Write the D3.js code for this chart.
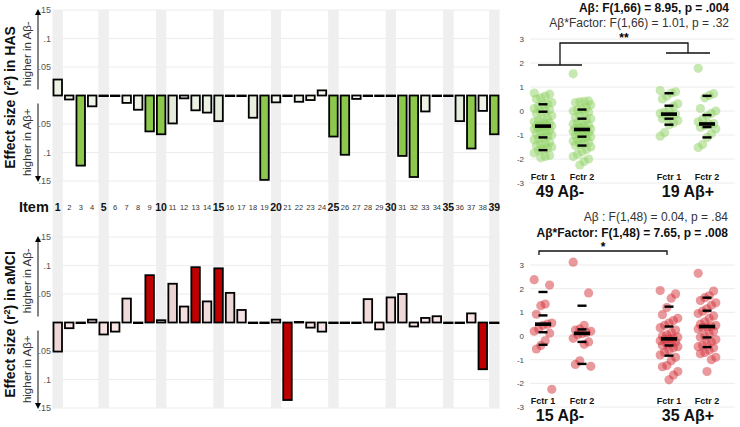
<!DOCTYPE html>
<html><head><meta charset="utf-8">
<script src="https://cdn.jsdelivr.net/npm/d3@7"></script>
<style>body{margin:0;background:#fff;font-family:Arial,"Liberation Sans",sans-serif;}</style>
</head><body><svg id="c" width="740" height="427"></svg>
<script>
// ---------- DATA ----------
const items = d3.range(1, 40);
const boldItems = [1,5,10,15,20,25,30,35,39];
const hasValues = [0.028,-0.007,-0.123,-0.019,-0.001,0,-0.013,-0.025,-0.063,-0.068,-0.049,-0.005,-0.026,-0.030,-0.045,0,0,-0.039,-0.148,-0.012,0,-0.011,-0.008,0.009,-0.072,-0.104,-0.006,0,0,0,-0.106,-0.143,-0.028,0,0,-0.045,-0.093,-0.027,-0.068];
const hasSig = [3,9,10,19,25,26,31,32,37,39];
const mciValues = [-0.051,-0.010,0,0.005,-0.021,-0.016,0.042,0,0.083,0.004,0.068,0.028,0.097,0.037,0.095,0.052,0.022,0,0,0.005,-0.136,0.001,-0.009,-0.016,0,0,0,0.041,-0.012,0.044,0.050,-0.007,0.008,0.011,0,0,0.016,-0.082,0];
const mciSig = [9,13,15,21,38];
const effectTicks = [0.05,0.1,0.15];
const effectTickLabels = [".05",".1",".15"];
const scoreTicks = [3,2,1,0,-1,-2,-3];

// HAS scatter (factor scores)
const hasNegF1 = [0.75,0.7,0.62,0.55,0.5,0.35,0.3,0.28,0.2,0.1,0.05,0.0,-0.03,-0.1,-0.2,-0.3,-0.35,-0.4,-0.45,-0.5,-0.55,-0.6,-0.62,-0.63,-0.65,-0.68,-0.7,-0.75,-0.8,-0.85,-0.9,-0.95,-1.0,-1.05,-1.1,-1.15,-1.2,-1.3,-1.35,-1.4,-1.45,-1.5,-1.55,-1.6,-1.65,-1.75,-1.85,-1.9,-1.95];
const hasNegF2 = [1.55,0.42,0.4,0.38,0.35,0.25,0.15,0.08,0.05,0.0,-0.05,-0.1,-0.2,-0.28,-0.32,-0.38,-0.45,-0.5,-0.55,-0.6,-0.65,-0.7,-0.72,-0.75,-0.77,-0.8,-0.82,-0.85,-0.9,-0.95,-1.0,-1.03,-1.07,-1.1,-1.15,-1.2,-1.25,-1.3,-1.35,-1.4,-1.44,-1.5,-1.6,-1.7,-1.8,-1.9,-2.0,-2.1,-2.25];
const hasPosF1 = [0.85,0.8,0.75,0.62,0.5,0.3,0.2,0.05,-0.05,-0.1,-0.13,-0.18,-0.25,-0.32,-0.4,-0.5,-0.57,-0.9,-1.05];
const hasPosF2 = [1.78,0.72,0.65,0.55,0.1,0.0,-0.1,-0.2,-0.35,-0.45,-0.52,-0.55,-0.6,-0.68,-0.75,-0.95,-1.1,-1.4,-1.52];
// percentile markers [90,75,50,25,10]
const hasNegF1Q = [0.28,-0.03,-0.63,-1.10,-1.63];
const hasNegF2Q = [0.06,-0.32,-0.77,-1.07,-1.44];
const hasPosF1Q = [0.74,0.22,-0.13,-0.32,-0.57];
const hasPosF2Q = [0.63,-0.17,-0.54,-0.67,-1.10];

// aMCI scatter
const mciNegF1 = [2.38,2.15,1.35,1.28,0.92,0.55,0.5,0.45,0.3,0.2,0.12,-0.2,-0.4,-0.55,-2.25];
const mciNegF2 = [3.12,1.82,0.45,0.3,0.25,0.2,0.15,0.1,0.05,-0.1,-0.25,-0.35,-1.05,-1.2,-1.28];
const mciPosF1 = [1.92,1.78,1.6,1.2,0.9,0.75,0.65,0.55,0.45,0.35,0.25,0.15,0.05,0.0,-0.05,-0.1,-0.12,-0.15,-0.2,-0.25,-0.3,-0.35,-0.4,-0.45,-0.5,-0.6,-0.7,-0.8,-0.9,-1.05,-1.25,-1.3,-1.5,-1.65,-1.85];
const mciPosF2 = [2.65,1.9,1.7,1.62,1.5,1.4,1.3,1.15,1.05,0.95,0.85,0.75,0.6,0.5,0.45,0.4,0.38,0.35,0.3,0.2,0.1,0.0,-0.05,-0.15,-0.25,-0.3,-0.4,-0.45,-0.5,-0.6,-0.7,-0.75,-0.9,-1.0,-1.5];
const mciNegF1Q = [1.86,0.87,0.50,0.16,-0.37];
const mciNegF2Q = [1.28,0.28,0.11,-0.25,-1.18];
const mciPosF1Q = [1.24,0.40,-0.12,-0.40,-0.83];
const mciPosF2Q = [1.62,1.07,0.40,-0.06,-0.47];

const groupLabels = ["Fctr 1","Fctr 2","Fctr 1","Fctr 2"];
const hasGroupTitles = ["49 Aβ-","19 Aβ+"];
const mciGroupTitles = ["15 Aβ-","35 Aβ+"];

// ---------- DRAW ----------
const svg = d3.select("#c");
const x = d3.scaleBand().domain(items).range([52, 500]).paddingInner(0.12).paddingOuter(0.06);

svg.append("g").selectAll("rect").data(boldItems).join("rect")
  .attr("x", d => x(d)).attr("width", x.bandwidth())
  .attr("y", 10).attr("height", 398).attr("fill", "#efefef");

function barChart(values, sig, y0, y1, color, lightA, lightB, title) {
  const y = d3.scaleLinear().domain([-0.15, 0.15]).range([y1, y0]);
  const g = svg.append("g");
  const gl = [];
  effectTicks.forEach(t => { gl.push(t); gl.push(-t); });
  g.selectAll("line.grid").data(gl).join("line")
    .attr("x1", 52).attr("x2", 500).attr("y1", d => y(d)).attr("y2", d => y(d))
    .attr("stroke", "#ececec").attr("stroke-width", 1);
  g.selectAll("rect.sh").data(boldItems).join("rect")
    .attr("x", d => x(d)).attr("width", x.bandwidth())
    .attr("y", y0).attr("height", y1 - y0).attr("fill", "#efefef");
  effectTicks.forEach((t, i) => {
    [t, -t].forEach(v => {
      g.append("text").attr("x", 51).attr("y", y(v) + 3).attr("text-anchor", "end")
        .attr("font-size", 9).attr("fill", "#555").text(effectTickLabels[i]);
    });
  });
  const ax = 38, z = y(0);
  g.append("line").attr("x1", ax).attr("x2", ax).attr("y1", y0 + 3).attr("y2", z - 6).attr("stroke", "#333").attr("stroke-width", 1.2);
  g.append("line").attr("x1", ax).attr("x2", ax).attr("y1", z + 8).attr("y2", y1 - 3).attr("stroke", "#333").attr("stroke-width", 1.2);
  g.append("path").attr("d", `M${ax-3},${y0+5}L${ax},${y0-1}L${ax+3},${y0+5}Z`).attr("fill", "#000");
  g.append("path").attr("d", `M${ax-3},${y1-5}L${ax},${y1+1}L${ax+3},${y1-5}Z`).attr("fill", "#000");
  g.append("text").attr("transform", `translate(31,${(y0 + z) / 2 + 1}) rotate(-90)`).attr("text-anchor", "middle")
    .attr("font-size", 11.5).attr("fill", "#333").text("higher in Aβ-");
  g.append("text").attr("transform", `translate(31,${(z + y1) / 2 + 4}) rotate(-90)`).attr("text-anchor", "middle")
    .attr("font-size", 11.5).attr("fill", "#333").text("higher in Aβ+");
  const tt = g.append("text").attr("transform", `translate(15,${z + 2}) rotate(-90)`).attr("text-anchor", "middle")
    .attr("font-size", 14).attr("font-weight", "bold").attr("fill", "#111");
  tt.append("tspan").text("Effect size (r");
  tt.append("tspan").attr("font-size", 9).attr("dy", -5).text("2");
  tt.append("tspan").attr("dy", 5).text(") in " + title);
  const data = items.map((it, i) => ({it, v: values[i]}));
  const shade = d3.scaleLinear().domain([0, 0.06]).range([lightA, lightB]).clamp(true);
  g.selectAll("rect.bar").data(data).join("rect")
    .attr("x", d => x(d.it) + 0.8).attr("width", x.bandwidth() - 1.6)
    .attr("y", d => Math.min(y(d.v), y(0)))
    .attr("height", d => Math.max(Math.abs(y(d.v) - y(0)), 0.6))
    .attr("fill", d => sig.includes(d.it) ? color : shade(Math.abs(d.v)))
    .attr("stroke", "#000").attr("stroke-width", 1.8);
}
barChart(hasValues, hasSig, 10, 181, "#8cc84b", "#f6faf1", "#dfe9d6", "HAS");
barChart(mciValues, mciSig, 237, 408, "#c00000", "#fdeaea", "#ead3d3", "aMCI");

svg.append("text").attr("x", 19).attr("y", 212).attr("font-size", 14.5).attr("font-weight", "bold").attr("fill", "#111").text("Item");
svg.append("g").selectAll("text").data(items).join("text")
  .attr("x", d => x(d) + x.bandwidth() / 2).attr("y", d => boldItems.includes(d) ? 211 : 210)
  .attr("text-anchor", "middle")
  .attr("font-size", d => boldItems.includes(d) ? 10.5 : 7.5)
  .attr("font-weight", d => boldItems.includes(d) ? "bold" : "normal")
  .attr("fill", d => boldItems.includes(d) ? "#111" : "#333")
  .text(d => d);

const gx = [543, 582, 669, 707];
function scatter(y0, y1, groups, quants, color, titles) {
  const y = d3.scaleLinear().domain([-3, 3]).range([y1, y0]);
  const g = svg.append("g");
  g.selectAll("line.grid").data(scoreTicks).join("line")
    .attr("x1", 530).attr("x2", 735).attr("y1", d => y(d)).attr("y2", d => y(d))
    .attr("stroke", "#ececec");
  g.selectAll("text.tk").data(scoreTicks).join("text")
    .attr("x", 524).attr("y", d => y(d) + 3).attr("text-anchor", "end")
    .attr("font-size", 8).attr("fill", "#444").text(d => d);
  groups.forEach((vals, gi) => {
    g.append("g").selectAll("circle").data(vals).join("circle")
      .attr("cx", (d, i) => gx[gi] + ((((i * 7) % 9) - 4) * 2.2))
      .attr("cy", d => y(d)).attr("r", 4.6)
      .attr("fill", color).attr("fill-opacity", 0.5);
    quants[gi].forEach((q, qi) => {
      const w = qi === 2 ? 16 : 9, h = qi === 2 ? 3.6 : 2.4;
      g.append("rect").attr("x", gx[gi] - w / 2).attr("y", y(q) - h / 2)
        .attr("width", w).attr("height", h).attr("fill", "#000");
    });
    g.append("text").attr("x", gx[gi]).attr("y", y1 - 3).attr("text-anchor", "middle")
      .attr("font-size", 9).attr("font-weight", "bold").attr("fill", "#111").text(groupLabels[gi]);
  });
  g.append("text").attr("x", 560).attr("y", y1 + 14).attr("text-anchor", "middle")
    .attr("font-size", 16).attr("font-weight", "bold").attr("fill", "#111").text(titles[0]);
  g.append("text").attr("x", 688).attr("y", y1 + 14).attr("text-anchor", "middle")
    .attr("font-size", 16).attr("font-weight", "bold").attr("fill", "#111").text(titles[1]);
  return y;
}
scatter(39, 183, [hasNegF1, hasNegF2, hasPosF1, hasPosF2], [hasNegF1Q, hasNegF2Q, hasPosF1Q, hasPosF2Q], "#8fd263", hasGroupTitles);
scatter(265, 407, [mciNegF1, mciNegF2, mciPosF1, mciPosF2], [mciNegF1Q, mciNegF2Q, mciPosF1Q, mciPosF2Q], "#d4323a", mciGroupTitles);

svg.append("text").attr("x", 729).attr("y", 12).attr("text-anchor", "end").attr("font-size", 12)
  .attr("font-weight", "bold").attr("fill", "#111").text("Aβ: F(1,66) = 8.95, p = .004");
svg.append("text").attr("x", 729).attr("y", 27).attr("text-anchor", "end").attr("font-size", 12)
  .attr("fill", "#333").text("Aβ*Factor: F(1,66) = 1.01, p = .32");
const br = svg.append("g").attr("fill", "none").attr("stroke", "#111").attr("stroke-width", 1.3);
br.append("path").attr("d", "M538,65H582M560,65V43H688V53M666,53H710");
svg.append("text").attr("x", 624).attr("y", 42).attr("text-anchor", "middle").attr("font-size", 12).attr("font-weight", "bold").text("**");

svg.append("text").attr("x", 728).attr("y", 221).attr("text-anchor", "end").attr("font-size", 12)
  .attr("fill", "#333").text("Aβ : F(1,48) = 0.04, p = .84");
svg.append("text").attr("x", 728).attr("y", 237).attr("text-anchor", "end").attr("font-size", 12)
  .attr("font-weight", "bold").attr("fill", "#111").text("Aβ*Factor: F(1,48) = 7.65, p = .008");
br.append("path").attr("d", "M539,255V251H667V255");
svg.append("text").attr("x", 603).attr("y", 251).attr("text-anchor", "middle").attr("font-size", 12).attr("font-weight", "bold").text("*");
</script></body></html>
